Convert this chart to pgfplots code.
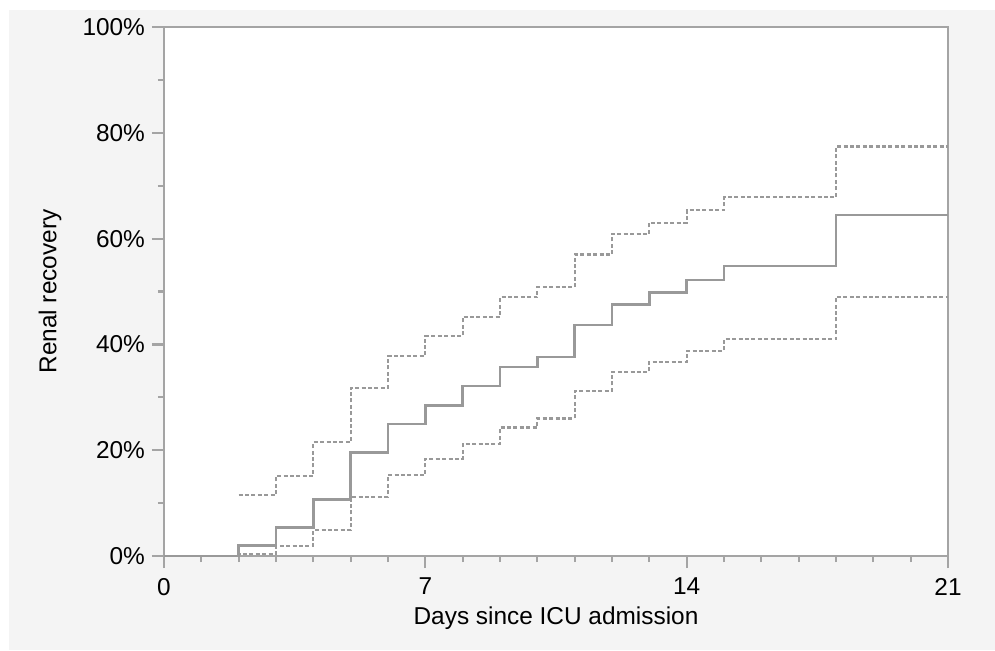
\documentclass[border=0pt]{standalone}
\usepackage{pgfplots}
\pgfplotsset{compat=1.18}
\usepackage{fontspec}
\setmainfont{Liberation Sans}
\definecolor{bggray}{HTML}{F4F4F4}
\definecolor{axgray}{HTML}{A4A4A4}
\definecolor{curvegray}{HTML}{999999}
\begin{document}
\begin{tikzpicture}
\path[use as bounding box] (-82pt,-47pt) rectangle (415.5pt,278pt);
\fill[bggray] (-77.5pt,-47pt) rectangle (415.5pt,273pt);
\begin{axis}[
  scale only axis,
  width=392pt, height=264.5pt,
  xmin=0, xmax=21, ymin=0, ymax=100,
  axis background/.style={fill=white},
  axis line style={axgray, line width=1.1pt},
  xtick={0,7,14,21},
  minor x tick num=6,
  ytick={0,20,40,60,80,100},
  yticklabels={0\%,20\%,40\%,60\%,80\%,100\%},
  minor y tick num=1,
  xtick pos=bottom, ytick pos=left,
  tick align=outside,
  major tick length=6pt, minor tick length=3pt,
  every tick/.style={axgray, line width=1.1pt},
  /pgf/number format/assume math mode=true,
  ticklabel style={font=\fontsize{12.2}{14}\selectfont, text=black},
  xticklabel style={yshift=-1.5pt},
  every axis x label/.style={at={(axis description cs:0.5,-0.117)}, anchor=center, font=\fontsize{12.2}{14}\selectfont},
  every axis y label/.style={at={(axis description cs:-0.1454,0.5)}, anchor=center, rotate=90, font=\fontsize{12.2}{14}\selectfont},
  xlabel={Days since ICU admission},
  ylabel={Renal recovery},
  clip=false,
]
\addplot[const plot, curvegray, line width=1.3pt] coordinates {
(0,0) (2,1.95) (3,5.4) (4,10.7) (5,19.6) (6,24.95) (7,28.5) (8,32.1) (9,35.7) (10,37.6) (11,43.7) (12,47.6) (13,49.8) (14,52.2) (15,54.8) (18,64.5) (21,64.5)};
\addplot[const plot, curvegray, line width=1.1pt, dash pattern=on 2pt off 1.2pt] coordinates {
(2,11.5) (3,15.1) (4,21.5) (5,31.8) (6,37.8) (7,41.6) (8,45.2) (9,48.9) (10,50.8) (11,57.0) (12,60.9) (13,63.0) (14,65.4) (15,67.8) (18,77.4) (21,77.4)};
\addplot[const plot, curvegray, line width=1.1pt, dash pattern=on 2pt off 1.2pt] coordinates {
(2,0) (2,0.4) (3,1.9) (4,4.9) (5,11.2) (6,15.3) (7,18.4) (8,21.2) (9,24.3) (10,26.0) (11,31.2) (12,34.8) (13,36.7) (14,38.8) (15,41.0) (18,49.0) (21,49.0)};
\end{axis}
\end{tikzpicture}
\end{document}
